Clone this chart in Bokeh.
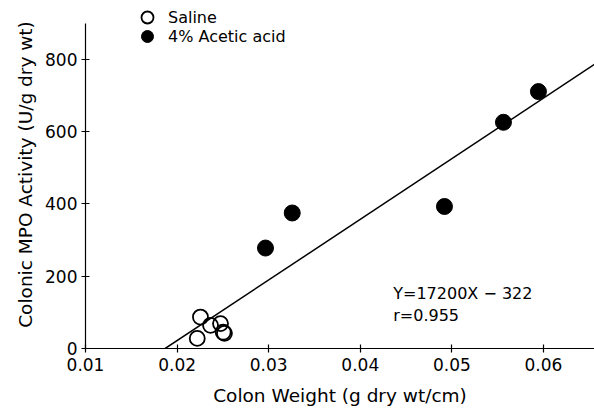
from bokeh.plotting import figure
from bokeh.models import (FixedTicker, PrintfTickFormatter,
                          Legend, LegendItem, Label)
from bokeh.embed import file_html
from bokeh.resources import INLINE

# ---- data ----
saline_x = [0.02255, 0.0222, 0.02365, 0.02474, 0.02503, 0.02517]
saline_y = [87, 28, 64, 69, 45, 42]
acetic_x = [0.02965, 0.03257, 0.04919, 0.05563, 0.05945]
acetic_y = [278, 375, 393, 626, 711]
fit_x = [0.0187, 0.0656]
fit_y = [0, 787]
x_ticks = [0.01, 0.02, 0.03, 0.04, 0.05, 0.06]
y_ticks = [0, 200, 400, 600, 800]
eq_text = "Y=17200X \u2212 322"
r_text = "r=0.955"

FONT = "DejaVu Sans"

p = figure(width=594, height=414, output_backend="svg", toolbar_location=None,
           x_range=(0.01, 0.06557), y_range=(0, 963),
           min_border_left=85, min_border_right=0, min_border_top=0,
           min_border_bottom=66)
p.outline_line_color = None
p.xgrid.visible = False
p.ygrid.visible = False

# fit line
p.line(fit_x, fit_y, line_color="black", line_width=1.5)

sal = p.scatter(saline_x, saline_y, marker="circle", size=15,
                fill_color=None, line_color="black", line_width=1.8)
ace = p.scatter(acetic_x, acetic_y, marker="circle", size=16,
                fill_color="black", line_color="black")
# white divider for the half-filled legend symbol (no data points)
div = p.scatter(x=[], y=[], marker="dash", angle=1.5708, size=12,
                line_color="white", line_width=1.5)

# axes
for ax in (p.xaxis[0], p.yaxis[0]):
    ax.axis_line_color = "black"
    ax.axis_line_width = 1.2
    ax.major_tick_line_color = "black"
    ax.major_tick_line_width = 1.2
    ax.major_tick_in = 4
    ax.major_tick_out = 4
    ax.minor_tick_line_color = None
    ax.major_label_text_font = FONT
    ax.major_label_text_font_size = "17px"
    ax.major_label_text_color = "black"
    ax.axis_label_text_font = FONT
    ax.axis_label_text_font_size = "18.5px"
    ax.axis_label_text_font_style = "normal"
    ax.axis_label_text_color = "black"

p.xaxis.ticker = FixedTicker(ticks=x_ticks)
p.xaxis.formatter = PrintfTickFormatter(format="%.2f")
p.xaxis.axis_label = "Colon Weight (g dry wt/cm)"
p.xaxis.major_label_standoff = 5
p.xaxis.axis_label_standoff = 11

p.yaxis.ticker = FixedTicker(ticks=y_ticks)
p.yaxis.axis_label = "Colonic MPO Activity (U/g dry wt)"
p.yaxis.major_label_standoff = 4
p.yaxis.axis_label_standoff = 6
p.yaxis.bounds = (0, 900)

# legends (two single-item legends placed at top)
def make_legend(label, renderers, vy):
    lg = Legend(items=[LegendItem(label=label, renderers=renderers)],
                location=(47, vy), orientation="vertical",
                glyph_width=30, glyph_height=30, label_height=30,
                label_standoff=6, padding=0, margin=0, spacing=0,
                border_line_color=None, background_fill_alpha=0,
                label_text_font=FONT, label_text_font_size="16px",
                label_text_color="black")
    p.add_layout(lg, "center")

make_legend("Saline", [sal], 316)
make_legend("4% Acetic acid", [ace, div], 297)

# equation annotations
p.add_layout(Label(x=0.0436, y=152, text=eq_text, text_font=FONT,
                   text_font_size="16px", text_baseline="middle",
                   text_color="black"))
p.add_layout(Label(x=0.0436, y=91, text=r_text, text_font=FONT,
                   text_font_size="16px", text_baseline="middle",
                   text_color="black"))

open("out.html", "w").write(file_html(p, INLINE))
